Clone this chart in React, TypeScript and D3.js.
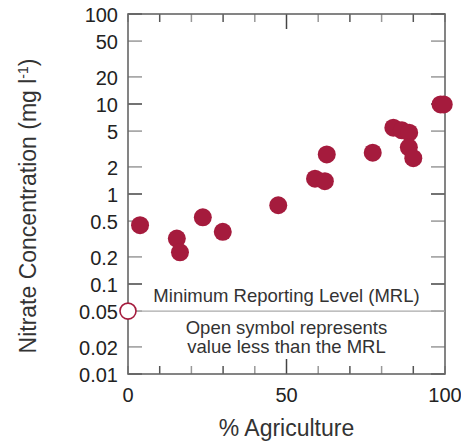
import React from 'react'
import * as d3 from 'd3'

// percent agriculture in the basin vs nitrate (mg/l)
const agriculture = [3.8, 15.4, 16.4, 23.6, 29.9, 47.4, 59.0, 62.1, 62.7, 77.2, 83.7, 86.4, 88.7, 88.6, 90.0, 98.6, 99.6]
const nitrate = [0.45, 0.32, 0.225, 0.55, 0.38, 0.75, 1.48, 1.39, 2.75, 2.88, 5.45, 5.1, 4.8, 3.3, 2.5, 9.9, 9.9]

// samples below the reporting level
const belowAgriculture = [0]
const belowNitrate = [0.05]

const mrl = 0.05
const yTicks = [0.01, 0.02, 0.05, 0.1, 0.2, 0.5, 1, 2, 5, 10, 20, 50, 100]
const yMajor = [0.01, 0.1, 1, 10, 100]
const xTicks = [0, 10, 20, 30, 40, 50, 60, 70, 80, 90, 100]
const xLabels = [0, 50, 100]

const W = 461
const H = 443
const margin = { top: 14, right: 16, bottom: 69, left: 128 }
const RED = '#a51b3d'
const FONT = '"Liberation Sans", Arial, sans-serif'

export default function App() {
  const x = d3.scaleLinear().domain([0, 100]).range([margin.left, W - margin.right])
  const y = d3.scaleLog().domain([0.01, 100]).range([H - margin.bottom, margin.top])
  const [x0, x1] = x.range()
  const [y0, y1] = y.range()
  const cx = (x0 + x1) / 2

  return (
    <svg width={W} height={H} style={{ position: 'absolute', left: 0, top: 0, background: '#fff' }} fontFamily={FONT}>
      {/* y ticks, both sides, pointing in */}
      {yTicks.map(t => {
        const major = yMajor.includes(t)
        return (
          <g key={'y' + t} stroke={major ? '#444' : '#999'} strokeWidth={1.5}>
            <line x1={x0} x2={x0 + 14} y1={y(t)} y2={y(t)} />
            <line x1={x1} x2={x1 - 14} y1={y(t)} y2={y(t)} />
          </g>
        )
      })}
      {/* x ticks, top and bottom */}
      {xTicks.map(t => {
        const len = t === 50 ? 15 : 8
        const col = t === 50 ? '#444' : (t % 20 === 0 ? '#999' : '#555')
        return (
          <g key={'x' + t} stroke={col} strokeWidth={1.5}>
            <line x1={x(t)} x2={x(t)} y1={y0} y2={y0 - len} />
            <line x1={x(t)} x2={x(t)} y1={y1} y2={y1 + len} />
          </g>
        )
      })}
      <rect x={x0} y={y1} width={x1 - x0} height={y0 - y1} fill="none" stroke="#666" strokeWidth={1.6} />

      {/* reporting level */}
      <line x1={x0} x2={x1} y1={y(mrl)} y2={y(mrl)} stroke="#aaa" strokeWidth={1.2} />
      <g fill="#333" fontSize={18.5} textAnchor="middle">
        <text x={cx} y={302}>Minimum Reporting Level (MRL)</text>
        <text x={cx} y={334}>Open symbol represents</text>
        <text x={cx} y={353}>value less than the MRL</text>
      </g>

      {agriculture.map((a, i) => (
        <circle key={'p' + i} cx={x(a)} cy={y(nitrate[i])} r={9} fill={RED} />
      ))}
      {belowAgriculture.map((a, i) => (
        <circle key={'o' + i} cx={x(a)} cy={y(belowNitrate[i])} r={8} fill="#fff" stroke={RED} strokeWidth={1.6} />
      ))}

      {/* tick labels */}
      <g fill="#222" fontSize={20} textAnchor="end">
        {yTicks.map(t => (
          <text key={'yl' + t} x={x0 - 10} y={y(t) + 1} dominantBaseline="central">{String(t)}</text>
        ))}
      </g>
      <g fill="#222" fontSize={20} textAnchor="middle">
        {xLabels.map(t => (
          <text key={'xl' + t} x={x(t)} y={402}>{t}</text>
        ))}
      </g>

      <text x={cx} y={436} fontSize={23} fill="#333" textAnchor="middle">% Agriculture</text>
      <text transform={`translate(36, 206) rotate(-90)`} fontSize={23} fill="#333" textAnchor="middle">
        Nitrate Concentration (mg l<tspan dy={-8} fontSize={14}>-1</tspan><tspan dy={8}>)</tspan>
      </text>
    </svg>
  )
}
